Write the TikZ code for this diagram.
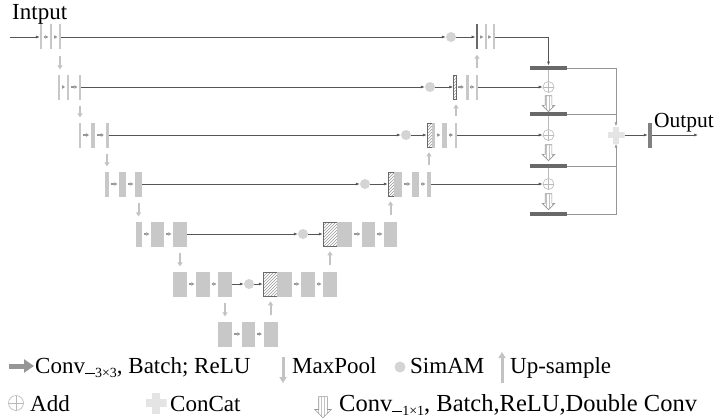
\documentclass[tikz,border=0pt]{standalone}
\usepackage{fontspec}
\setmainfont{Liberation Serif}
\usetikzlibrary{arrows.meta,patterns,shapes.arrows}
\definecolor{MyBar}{RGB}{200,200,200}
\definecolor{MyDark}{RGB}{105,105,105}
\definecolor{MyLine}{RGB}{85,85,85}
\definecolor{MyConv}{RGB}{150,150,150}
\definecolor{MyPool}{RGB}{195,195,195}
\definecolor{MySim}{RGB}{212,212,212}
\definecolor{MyAdd}{RGB}{185,185,185}
\definecolor{MyCat}{RGB}{228,228,228}
\newcommand{\convsub}[1]{\raisebox{-4pt}{\fontsize{14}{14}\selectfont\rule[3pt]{10pt}{0.7pt}#1}}

\begin{document}
\begin{tikzpicture}[x=1pt, y=-1pt, font=\fontsize{23}{27}\selectfont,
  bar/.style={rectangle, fill=MyBar, inner sep=0pt, minimum height=25pt, minimum width=#1pt},
  bar/.default=2,
  hbar/.style={rectangle, draw=MyDark, line width=0.5pt, pattern=north east lines, pattern color=MyConv, inner sep=0pt, minimum height=24pt, minimum width=#1pt},
  obar/.style={rectangle, fill=MyDark, inner sep=0pt, minimum width=37pt, minimum height=4.5pt},
  simam/.style={circle, fill=MySim, inner sep=0pt, minimum size=#1pt},
  simam/.default=10,
  addop/.style={circle, draw=MyAdd, line width=0.6pt, fill=white, inner sep=0pt, minimum size=#1pt,
    path picture={\draw[MyAdd, line width=0.6pt] (path picture bounding box.north) -- (path picture bounding box.south)
      (path picture bounding box.west) -- (path picture bounding box.east);}},
  addop/.default=11,
  concat/.style={inner sep=0pt, minimum size=#1pt,
    path picture={\fill[MyCat] ([xshift=-0.18*#1pt]path picture bounding box.north) rectangle ([xshift=0.18*#1pt]path picture bounding box.south);
      \fill[MyCat] ([yshift=-0.18*#1pt]path picture bounding box.west) rectangle ([yshift=0.18*#1pt]path picture bounding box.east);}},
  hollow/.style={single arrow, shape border rotate=270, draw=MyConv, line width=0.6pt, pattern=vertical lines, pattern color=MyPool,
    inner sep=#1pt, minimum height=5.3*#1pt, single arrow head extend=#1pt},
  hollow/.default=3,
  link/.style={draw=MyLine, line width=0.7pt, -{Latex[length=4pt,width=3pt]}},
  conv/.style={draw=MyConv, line width=1.2pt, -{Triangle[length=3pt,width=3.5pt]}, shorten <=1.5pt, shorten >=1.5pt},
  pool/.style={draw=MyPool, line width=2pt, -{Triangle[length=4pt,width=5pt]}, shorten <=6pt, shorten >=5pt},
  legend/.style={anchor=base west, inner sep=0pt}]
\useasboundingbox (0,0) rectangle (717,420);

\node[legend] (intxt) at (12,20) {Intput};
\coordinate (in) at (10,37);

\node[bar] (e1a) at (41,37) {};
\node[bar] (e1b) at (51,37) {};
\node[bar] (e1c) at (60,37) {};
\node[simam] (s1) at (451,37) {};
\node[bar=2.5, fill=MyDark] (d1a) at (477,37) {};
\node[bar] (d1b) at (486,37) {};
\node[bar] (d1c) at (494,37) {};

\node[bar] (e2a) at (59,87) {};
\node[bar=2.5] (e2b) at (68,87) {};
\node[bar] (e2c) at (80,87) {};
\node[simam] (s2) at (430,87) {};
\node[hbar=3] (d2a) at (455,87) {};
\node[bar=3] (d2b) at (467,87) {};
\node[bar] (d2c) at (477,87) {};

\node[bar=2.5] (e3a) at (80,135) {};
\node[bar=4.5] (e3b) at (93,135) {};
\node[bar=3] (e3c) at (107,135) {};
\node[simam] (s3) at (406,135) {};
\node[hbar=5] (d3a) at (429.5,135) {};
\node[bar=3] (d3g) at (433.5,135) {};
\node[bar=5] (d3b) at (444.5,135) {};
\node[bar=2.5] (d3c) at (456,135) {};

\node[bar=4] (e4a) at (107,184) {};
\node[bar=7] (e4b) at (122.5,184) {};
\node[bar=7] (e4c) at (138.5,184) {};
\node[simam] (s4) at (365,184) {};
\node[hbar=6] (d4a) at (391,184) {};
\node[bar=8] (d4g) at (398,184) {};
\node[bar=7] (d4b) at (415.5,184) {};
\node[bar=4] (d4c) at (429,184) {};

\node[bar=6] (e5a) at (139,234) {};
\node[bar=13] (e5b) at (157.5,234) {};
\node[bar=14] (e5c) at (180,234) {};
\node[simam] (s5) at (303,234) {};
\node[hbar=14] (d5a) at (330,234) {};
\node[bar=15] (d5g) at (344.5,234) {};
\node[bar=13] (d5b) at (368.5,234) {};
\node[bar=13] (d5c) at (390.5,234) {};

\node[bar=14] (e6a) at (180,284) {};
\node[bar=14] (e6b) at (203,284) {};
\node[bar=14] (e6c) at (225,284) {};
\node[simam] (s6) at (249,284) {};
\node[hbar=14] (d6a) at (270,284) {};
\node[bar=15] (d6g) at (284.5,284) {};
\node[bar=14] (d6b) at (308,284) {};
\node[bar=14] (d6c) at (330,284) {};

\node[bar=14] (b7a) at (225,334) {};
\node[bar=13] (b7b) at (248.5,334) {};
\node[bar=14] (b7c) at (270.5,334) {};

\node[obar] (bar1) at (548.5,68) {};
\node[addop] (add1) at (548.5,87) {};
\node[hollow] (c1) at (548.5,102) {};
\node[obar] (bar2) at (548.5,114) {};
\node[addop] (add2) at (548.5,135) {};
\node[hollow] (c2) at (548.5,151) {};
\node[obar] (bar3) at (548.5,166) {};
\node[addop] (add3) at (548.5,184) {};
\node[hollow] (c3) at (548.5,200) {};
\node[obar] (bar4) at (548.5,214) {};

\node[concat=17] (cat) at (616,135) {};
\node[bar=4, fill=MyDark!85] (outbar) at (650,135) {};
\coordinate (outend) at (698,135);
\node[legend, font=\fontsize{21.5}{25}\selectfont] (outtxt) at (654,127) {Output};

\draw[link] (in) -- (e1a.west);
\draw[conv] (e1a) -- (e1b);
\draw[conv] (e1b) -- (e1c);
\draw[conv] (e2a) -- (e2b);
\draw[conv] (e2b) -- (e2c);
\draw[conv] (e3a) -- (e3b);
\draw[conv] (e3b) -- (e3c);
\draw[conv] (e4a) -- (e4b);
\draw[conv] (e4b) -- (e4c);
\draw[conv] (e5a) -- (e5b);
\draw[conv] (e5b) -- (e5c);
\draw[conv] (e6a) -- (e6b);
\draw[conv] (e6b) -- (e6c);
\draw[conv] (b7a) -- (b7b);
\draw[conv] (b7b) -- (b7c);
\draw[conv] (d1a) -- (d1b);
\draw[conv] (d1b) -- (d1c);
\draw[conv] (d2a) -- (d2b);
\draw[conv] (d2b) -- (d2c);
\draw[conv] (d3g) -- (d3b);
\draw[conv] (d3b) -- (d3c);
\draw[conv] (d4g) -- (d4b);
\draw[conv] (d4b) -- (d4c);
\draw[conv] (d5g) -- (d5b);
\draw[conv] (d5b) -- (d5c);
\draw[conv] (d6g) -- (d6b);
\draw[conv] (d6b) -- (d6c);

\draw[pool] (e1c.south) -- (e1c.south |- e2a.north);
\draw[pool] (e2c.south) -- (e2c.south |- e3a.north);
\draw[pool] (e3c.south) -- (e3c.south |- e4a.north);
\draw[pool] (e4c.south) -- (e4c.south |- e5a.north);
\draw[pool] (e5c.south) -- (e5c.south |- e6a.north);
\draw[pool] (e6c.south) -- (e6c.south |- b7a.north);
\draw[pool] (b7c.north) -- (b7c.north |- d6a.south);
\draw[pool] (d6c.north) -- (d6c.north |- d5a.south);
\draw[pool] (d5c.north) -- (d5c.north |- d4a.south);
\draw[pool] (d4c.north) -- (d4c.north |- d3a.south);
\draw[pool] (d3c.north) -- (d3c.north |- d2a.south);
\draw[pool] (d2c.north) -- (d2c.north |- d1a.south);

\draw[link] (e1c) -- (s1);
\draw[link] (s1) -- (d1a);
\draw[link] (e2c) -- (s2);
\draw[link] (s2) -- (d2a);
\draw[link] (e3c) -- (s3);
\draw[link] (s3) -- (d3a);
\draw[link] (e4c) -- (s4);
\draw[link] (s4) -- (d4a);
\draw[link] (e5c) -- (s5);
\draw[link] (s5) -- (d5a);
\draw[link] (e6c) -- (s6);
\draw[link] (s6) -- (d6a);

\draw[link] (d1c.east) -| (bar1.north);
\draw[link] (d2c) -- (add1);
\draw[link] (d3c) -- (add2);
\draw[link] (d4c) -- (add3);
\draw[MyAdd, line width=0.6pt] (bar1) -- (add1);
\draw[MyAdd, line width=0.6pt] (bar2) -- (add2);
\draw[MyAdd, line width=0.6pt] (bar3) -- (add3);
\draw[link, draw=MyConv] (bar1.east) -| (cat.north);
\draw[MyConv, line width=0.7pt] (bar2.east) -- (bar2.east -| cat.north);
\draw[link, draw=MyConv] (bar4.east) -| (cat.south);
\draw[MyConv, line width=0.7pt] (bar3.east) -- (bar3.east -| cat.south);
\draw[link] (cat) -- (outbar);
\draw[link] (outbar) -- (outend);

\coordinate (lc) at (9,366);
\node[legend] (lconv) at (35,373) {Conv\convsub{3×3}, Batch; ReLU};
\draw[draw=MyConv, line width=5pt, -{Triangle[length=10pt,width=13pt]}] (lc) -- ([xshift=-1pt]lc -| lconv.west);
\coordinate (lmpa) at (283,357);
\coordinate (lmpb) at (283,383);
\draw[draw=MyPool, line width=3pt, -{Triangle[length=6pt,width=7pt]}] (lmpa) -- (lmpb);
\node[legend] (lmp) at (292,373) {MaxPool};
\node[simam=11] (lsim) at (400,367) {};
\node[legend] (lsimtxt) at (410,373) {SimAM};
\coordinate (lupa) at (502,383);
\coordinate (lupb) at (502,352);
\draw[draw=MyPool, line width=3pt, -{Triangle[length=6pt,width=7pt]}] (lupa) -- (lupb);
\node[legend] (lup) at (510,373) {Up-sample};
\node[addop=15] (ladd) at (16,403) {};
\node[legend] (laddtxt) at (30,411) {Add};
\node[concat=21] (lcat) at (156,403) {};
\node[legend] (lcattxt) at (170,411) {ConCat};
\node[hollow=4] (lhol) at (323,405) {};
\node[legend, font=\fontsize{24.5}{28}\selectfont] (lholtxt) at (339,411) {Conv\convsub{1×1}, Batch,ReLU,Double Conv};
\end{tikzpicture}
\end{document}
